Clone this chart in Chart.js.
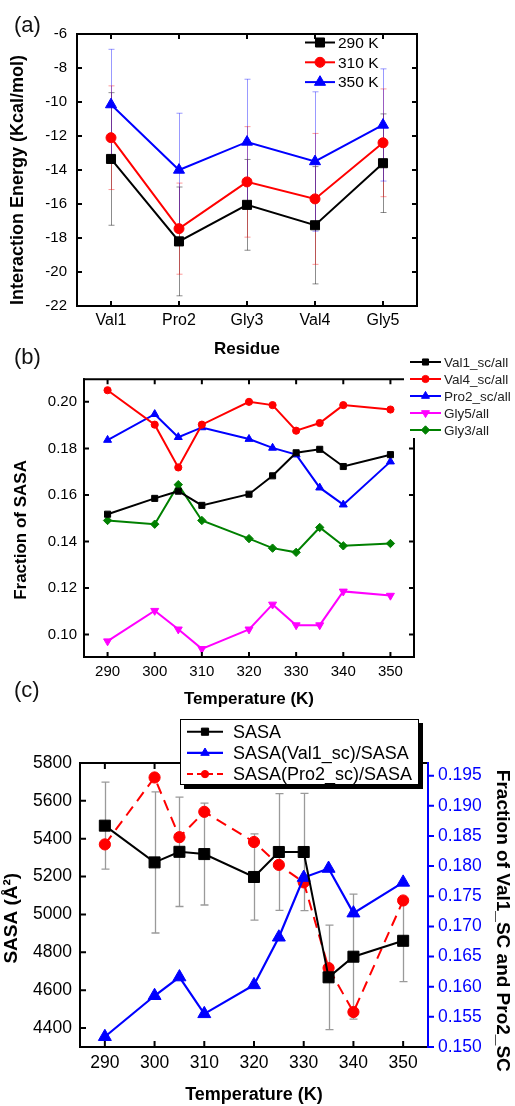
<!DOCTYPE html>
<html>
<head>
<meta charset="utf-8">
<title>Interaction energy and SASA vs temperature</title>
<script src="https://cdn.jsdelivr.net/npm/chart.js@4.4.1/dist/chart.umd.min.js"></script>
<style>
  body { margin: 0; background: #fff; font-family: "Liberation Sans", Arial, sans-serif; }
  #page { position: relative; width: 515px; height: 1106px; overflow: hidden; }
  canvas { position: absolute; left: 0; }
  .tag { position: absolute; left: 14px; font-size: 22px; line-height: 22px; color: #111; }
</style>
</head>
<body>
<div id="page">
  <canvas id="chartA" width="515" height="365" style="top:0px"></canvas>
  <canvas id="chartB" width="515" height="375" style="top:340px"></canvas>
  <canvas id="chartC" width="515" height="406" style="top:700px"></canvas>
  <div class="tag" style="top:14px">(a)</div>
  <div class="tag" style="top:346px">(b)</div>
  <div class="tag" style="top:679px">(c)</div>
</div>

<script>
// ---- panel (a): interaction energy per residue
var residues = ['Val1', 'Pro2', 'Gly3', 'Val4', 'Gly5'];
var energy290 = [-13.35, -18.2, -16.05, -17.25, -13.6];
var err290 = [3.9, 3.2, 2.67, 3.45, 2.9];
var energy310 = [-12.1, -17.45, -14.7, -15.7, -12.4];
var err310 = [3.05, 2.68, 3.25, 3.85, 3.17];
var energy350 = [-10.15, -14.0, -12.35, -13.5, -11.35];
var err350 = [3.25, 3.34, 3.69, 4.1, 3.3];
var energyTicks = [-22, -20, -18, -16, -14, -12, -10, -8, -6];

// ---- panel (b) and (c): temperatures
var temps = [290, 300, 305, 310, 320, 325, 330, 335, 340, 350];
var tempTicks = [290, 300, 310, 320, 330, 340, 350];

var val1Fraction = [0.1517, 0.1585, 0.1616, 0.1555, 0.1603, 0.1682, 0.1781, 0.1796, 0.1722, 0.1773];
var val4Fraction = [0.2050, 0.1902, 0.1718, 0.1902, 0.2000, 0.1986, 0.1876, 0.1909, 0.1986, 0.1967];
var pro2Fraction = [0.1836, 0.1947, 0.1848, 0.1890, 0.1840, 0.1802, 0.1773, 0.1631, 0.1558, 0.1743];
var gly5Fraction = [0.0971, 0.1102, 0.1022, 0.0938, 0.1022, 0.1129, 0.1040, 0.1040, 0.1185, 0.1167];
var gly3Fraction = [0.1490, 0.1474, 0.1644, 0.1490, 0.1412, 0.1371, 0.1353, 0.1460, 0.1381, 0.1391];
var fractionTicks = [0.10, 0.12, 0.14, 0.16, 0.18, 0.20];

var sasa = [5469, 5275, 5331, 5319, 5198, 5330, 5330, 4668, 4777, 4861];
var sasaErr = [230, 373, 289, 269, 228, 308, 310, 276, 330, 216];
var sasaTicks = [4400, 4600, 4800, 5000, 5200, 5400, 5600, 5800];
var scFractionTicks = [0.150, 0.155, 0.160, 0.165, 0.170, 0.175, 0.180, 0.185, 0.190, 0.195];

Chart.defaults.font.family = '"Liberation Sans", Arial, sans-serif';
Chart.defaults.color = '#000';

var NB = '\u00A0';
function pad(n) { return new Array(n + 1).join(NB); }

function xy(xs, ys) {
	return xs.map(function (x, i) { return {x: x, y: ys[i]}; });
}
function setTicks(list) {
	return function (scale) { scale.ticks = list.map(function (v) { return {value: v}; }); };
}

// draws vertical error bars from dataset.errors
var errorBars = {
	id: 'errorBars',
	beforeDatasetsDraw: function (chart) {
		var ctx = chart.ctx;
		chart.data.datasets.forEach(function (ds, di) {
			if (!ds.errors) return;
			var meta = chart.getDatasetMeta(di);
			var ys = chart.scales[meta.yAxisID];
			ctx.save();
			ctx.strokeStyle = ds.errorColor;
			ctx.lineWidth = ds.errorWidth || 1;
			meta.data.forEach(function (pt, i) {
				var v = typeof ds.data[i] === 'object' ? ds.data[i].y : ds.data[i];
				var top = ys.getPixelForValue(v + ds.errors[i]);
				var bot = ys.getPixelForValue(v - ds.errors[i]);
				var x = Math.round(pt.x) + 0.5, c = ds.capHalf || 3;
				ctx.beginPath();
				ctx.moveTo(x, top); ctx.lineTo(x, bot);
				ctx.moveTo(x - c, top); ctx.lineTo(x + c, top);
				ctx.moveTo(x - c, bot); ctx.lineTo(x + c, bot);
				ctx.stroke();
			});
			ctx.restore();
		});
	}
};

// box frame with ticks on every side
var frame = {
	id: 'frame',
	afterDatasetsDraw: function (chart, args, opts) {
		var ctx = chart.ctx, a = chart.chartArea, w = opts.lineWidth, h = w / 2;
		ctx.save();
		opts.edges.forEach(function (e) {
			var sc = chart.scales[e.scale];
			ctx.strokeStyle = e.color;
			ctx.lineWidth = w;
			ctx.beginPath();
			if (e.side === 'left') { ctx.moveTo(a.left, a.top - h); ctx.lineTo(a.left, a.bottom + h); }
			if (e.side === 'right') { ctx.moveTo(a.right, a.top - h); ctx.lineTo(a.right, a.bottom + h); }
			if (e.side === 'top') { ctx.moveTo(a.left - h, a.top); ctx.lineTo(a.right + h, a.top); }
			if (e.side === 'bottom') { ctx.moveTo(a.left - h, a.bottom); ctx.lineTo(a.right + h, a.bottom); }
			ctx.stroke();
			var len = e.out ? -opts.tickLen : opts.tickLen;
			ctx.beginPath();
			sc.ticks.forEach(function (t, i) {
				var p = sc.getPixelForTick(i);
				if (e.side === 'left') { ctx.moveTo(a.left, p); ctx.lineTo(a.left + len, p); }
				if (e.side === 'right') { ctx.moveTo(a.right, p); ctx.lineTo(a.right - len, p); }
				if (e.side === 'top') { ctx.moveTo(p, a.top); ctx.lineTo(p, a.top + len); }
				if (e.side === 'bottom') { ctx.moveTo(p, a.bottom); ctx.lineTo(p, a.bottom - len); }
			});
			ctx.stroke();
		});
		ctx.restore();
	}
};

function marker(ctx, style, r, rot, color, x, y) {
	ctx.fillStyle = color;
	ctx.strokeStyle = color;
	ctx.lineWidth = 1;
	if (Chart.helpers && Chart.helpers.drawPoint) {
		Chart.helpers.drawPoint(ctx, {pointStyle: style, radius: r, rotation: rot || 0, borderWidth: 1}, x, y);
		return;
	}
	ctx.beginPath();
	ctx.arc(x, y, r, 0, Math.PI * 2);
	ctx.fill();
}

// legend placed by hand
var inlineLegend = {
	id: 'inlineLegend',
	afterDraw: function (chart, args, o) {
		var ctx = chart.ctx;
		ctx.save();
		if (o.bg) {
			ctx.fillStyle = '#fff';
			ctx.fillRect(o.bg.x, o.bg.y, o.bg.w, o.bg.h);
		}
		if (o.box) {
			var b = o.box;
			ctx.fillStyle = '#000';
			ctx.fillRect(b.x + 4, b.y + 4, b.w, b.h);
			ctx.fillStyle = '#fff';
			ctx.fillRect(b.x, b.y, b.w, b.h);
			ctx.strokeStyle = '#000';
			ctx.lineWidth = 1;
			ctx.strokeRect(b.x + 0.5, b.y + 0.5, b.w - 1, b.h - 1);
		}
		ctx.font = o.font;
		ctx.textBaseline = 'middle';
		ctx.textAlign = 'left';
		chart.data.datasets.forEach(function (ds, i) {
			var y = o.y + i * o.dy;
			ctx.strokeStyle = ds.borderColor;
			ctx.lineWidth = ds.borderWidth;
			ctx.setLineDash(ds.borderDash ? [6, 4] : []);
			ctx.beginPath();
			ctx.moveTo(o.x0, y); ctx.lineTo(o.x1, y);
			ctx.stroke();
			ctx.setLineDash([]);
			marker(ctx, ds.pointStyle, ds.pointRadius * o.scale, ds.pointRotation, ds.borderColor, (o.x0 + o.x1) / 2, y);
			ctx.fillStyle = o.color;
			ctx.fillText(ds.label, o.tx, y + 1);
		});
		ctx.restore();
	}
};

function series(label, data, color, style, r, extra) {
	var ds = {
		label: label, data: data, borderColor: color, backgroundColor: color,
		pointBackgroundColor: color, pointBorderColor: color, pointBorderWidth: 1,
		pointStyle: style, pointRadius: r, borderWidth: 2, tension: 0
	};
	for (var k in extra) ds[k] = extra[k];
	return ds;
}

var noGrid = {display: false, drawTicks: false};

// ---------- (a)
new Chart(document.getElementById('chartA'), {
	type: 'line',
	data: {
		labels: residues,
		datasets: [
			series('290 K', energy290, '#000', 'rect', 6.4, {errors: err290, errorColor: 'rgba(0,0,0,0.45)'}),
			series('310 K', energy310, '#ff0000', 'circle', 5, {errors: err310, errorColor: 'rgba(255,0,0,0.4)'}),
			series('350 K', energy350, '#0000ff', 'triangle', 6.4, {errors: err350, errorColor: 'rgba(0,0,255,0.4)'})
		]
	},
	options: {
		responsive: false, animation: false, events: [],
		layout: {padding: {top: 34, right: 98, left: 0, bottom: 0}},
		plugins: {
			legend: {display: false}, tooltip: {enabled: false},
			frame: {lineWidth: 2, tickLen: 5, edges: [
				{side: 'left', scale: 'y', color: '#000'}, {side: 'right', scale: 'y', color: '#000'},
				{side: 'top', scale: 'x', color: '#000'}, {side: 'bottom', scale: 'x', color: '#000'}]},
			inlineLegend: {x0: 305, x1: 335, tx: 338, y: 42.5, dy: 19.8, scale: 1, font: '15.5px "Liberation Sans", Arial', color: '#000'}
		},
		scales: {
			x: {
				type: 'category', offset: true, grid: noGrid, border: {display: false},
				ticks: {font: {size: 16}, padding: 5},
				title: {display: true, text: 'Residue', font: {size: 17, weight: 'bold'}, padding: {top: 0, bottom: 5}},
				afterFit: function (s) { s.height = 59; }
			},
			y: {
				min: -22, max: -6, grid: noGrid, border: {display: false},
				afterBuildTicks: setTicks(energyTicks),
				ticks: {font: {size: 15}, padding: 10, callback: function (v) { return String(v); }},
				title: {display: true, text: 'Interaction Energy (Kcal/mol)' + pad(4), font: {size: 18, weight: 'bold'}, padding: {top: 7, bottom: 0}},
				afterFit: function (s) { s.width = 77; }
			}
		}
	},
	plugins: [errorBars, frame, inlineLegend]
});

// ---------- (b)
new Chart(document.getElementById('chartB'), {
	type: 'line',
	data: {
		datasets: [
			series('Val1_sc/all', xy(temps, val1Fraction), '#000', 'rect', 4.3),
			series('Val4_sc/all', xy(temps, val4Fraction), '#ff0000', 'circle', 3.6),
			series('Pro2_sc/all', xy(temps, pro2Fraction), '#0000ff', 'triangle', 4.6),
			series('Gly5/all', xy(temps, gly5Fraction), '#ff00ff', 'triangle', 4.6, {pointRotation: 180}),
			series('Gly3/all', xy(temps, gly3Fraction), '#008000', 'rectRot', 4.2)
		]
	},
	options: {
		responsive: false, animation: false, events: [],
		layout: {padding: {top: 39.3, right: 101, left: 0, bottom: 0}},
		plugins: {
			legend: {display: false}, tooltip: {enabled: false},
			frame: {lineWidth: 2, tickLen: 5, edges: [
				{side: 'left', scale: 'y', color: '#000'}, {side: 'right', scale: 'y', color: '#000'},
				{side: 'top', scale: 'x', color: '#000'}, {side: 'bottom', scale: 'x', color: '#000'}]},
			inlineLegend: {bg: {x: 404, y: 0, w: 111, h: 98}, x0: 410, x1: 441, tx: 444, y: 22, dy: 17, scale: 1,
				font: '13.5px "Liberation Sans", Arial', color: '#222'}
		},
		scales: {
			x: {
				type: 'linear', min: 285, max: 355, grid: noGrid, border: {display: false},
				afterBuildTicks: setTicks(tempTicks),
				ticks: {font: {size: 15}, padding: 6, callback: function (v) { return String(v); }},
				title: {display: true, text: 'Temperature (K)', font: {size: 17, weight: 'bold'}, padding: {top: 0, bottom: 5}},
				afterFit: function (s) { s.height = 58; }
			},
			y: {
				min: 0.0903, max: 0.2097, grid: noGrid, border: {display: false},
				afterBuildTicks: setTicks(fractionTicks),
				ticks: {font: {size: 15}, padding: 7, callback: function (v) { return v.toFixed(2); }},
				title: {display: true, text: 'Fraction of SASA' + pad(5), font: {size: 17, weight: 'bold'}, padding: {top: 11.5, bottom: 0}},
				afterFit: function (s) { s.width = 84; }
			}
		}
	},
	plugins: [frame, inlineLegend]
});

// ---------- (c)
new Chart(document.getElementById('chartC'), {
	type: 'line',
	data: {
		datasets: [
			series('SASA', xy(temps, sasa), '#000', 'rect', 7.8,
				{errors: sasaErr, errorColor: '#9a9a9a', errorWidth: 1.3, capHalf: 4, yAxisID: 'y'}),
			series('SASA(Val1_sc)/SASA', xy(temps, val1Fraction), '#0000ff', 'triangle', 7.5, {yAxisID: 'y2', borderWidth: 2.2}),
			series('SASA(Pro2_sc)/SASA', xy(temps, pro2Fraction), '#ff0000', 'circle', 5.6, {yAxisID: 'y2', borderDash: [11, 7]})
		]
	},
	options: {
		responsive: false, animation: false, events: [],
		layout: {padding: {top: 63, right: 0, left: 0, bottom: 0}},
		plugins: {
			legend: {display: false}, tooltip: {enabled: false},
			frame: {lineWidth: 2, tickLen: 6, edges: [
				{side: 'left', scale: 'y', color: '#000'}, {side: 'top', scale: 'x', color: '#000'},
				{side: 'bottom', scale: 'x', color: '#000'}, {side: 'right', scale: 'y2', color: '#0000ff', out: true}]},
			inlineLegend: {box: {x: 180, y: 19, w: 239, h: 66}, x0: 187, x1: 223, tx: 233, y: 31.7, dy: 21.2, scale: 0.65,
				font: '18px "Liberation Sans", Arial', color: '#000'}
		},
		scales: {
			x: {
				type: 'linear', min: 285, max: 355, grid: noGrid, border: {display: false},
				afterBuildTicks: setTicks(tempTicks),
				ticks: {font: {size: 17.5}, padding: 6, callback: function (v) { return String(v); }},
				title: {display: true, text: 'Temperature (K)', font: {size: 18, weight: 'bold'}, padding: {top: 0, bottom: 0}},
				afterFit: function (s) { s.height = 59; }
			},
			y: {
				position: 'left', min: 4300, max: 5800, grid: noGrid, border: {display: false},
				afterBuildTicks: setTicks(sasaTicks),
				ticks: {font: {size: 17.5}, padding: 8, callback: function (v) { return String(v); }},
				title: {display: true, text: 'SASA (\u00C5\u00B2)' + pad(5), font: {size: 19, weight: 'bold'}, padding: {top: 0, bottom: 0}},
				afterFit: function (s) { s.width = 80; }
			},
			y2: {
				position: 'right', min: 0.150, max: 0.1971, grid: noGrid, border: {display: false},
				afterBuildTicks: setTicks(scFractionTicks),
				ticks: {font: {size: 17.5}, color: '#0000ff', padding: 10, callback: function (v) { return v.toFixed(3); }},
				title: {display: true, text: pad(6) + 'Fraction of Val1_SC and Pro2_SC', font: {size: 19, weight: 'bold'}, padding: {top: 1.6, bottom: 0}},
				afterFit: function (s) { s.width = 87; }
			}
		}
	},
	plugins: [errorBars, frame, inlineLegend]
});
</script>
</body>
</html>
